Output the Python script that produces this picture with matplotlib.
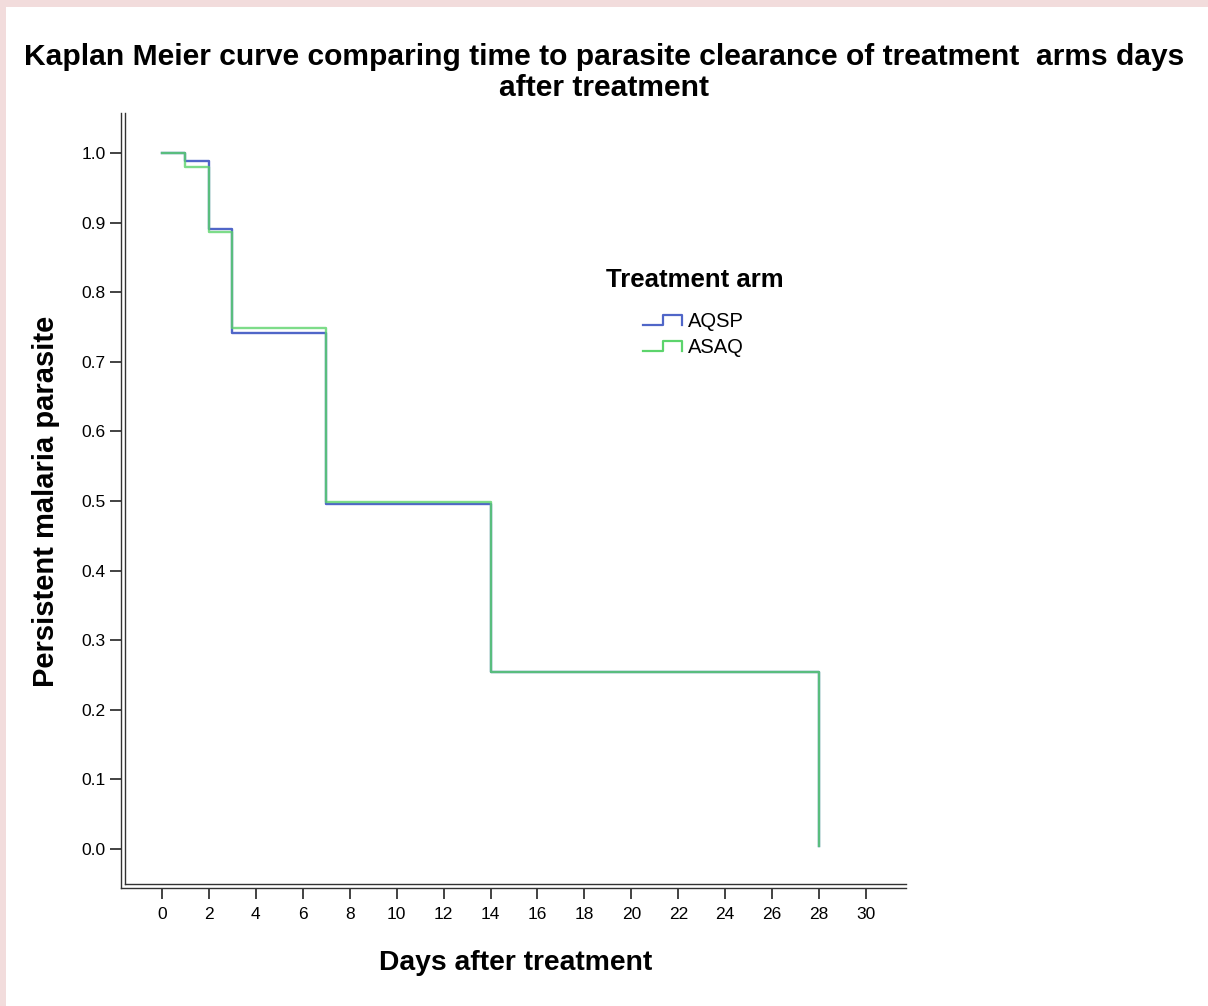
import numpy as np
import matplotlib
matplotlib.use("Agg")
import matplotlib.pyplot as plt
from matplotlib.lines import Line2D
from matplotlib.legend_handler import HandlerBase
from matplotlib.patches import Rectangle

plt.rcParams['font.family'] = ['Liberation Sans', 'DejaVu Sans']

# ---- data ----
days = [0, 1, 2, 3, 7, 14, 28]
aqsp = [1.0, 0.988, 0.891, 0.741, 0.496, 0.254, 0.004]
asaq = [1.0, 0.980, 0.886, 0.748, 0.498, 0.255, 0.004]
arm_names = ["AQSP", "ASAQ"]
arm_colors = ["#5066c8", "#5cd46c"]
x_ticks = list(range(0, 31, 2))
y_ticks = [round(0.1 * i, 1) for i in range(11)]

title = "Kaplan Meier curve comparing time to parasite clearance of treatment  arms days\nafter treatment"

W, H = 1208, 1006
fig = plt.figure(figsize=(W / 100, H / 100), dpi=100)
fig.patch.set_facecolor("white")

# pink frame strips
fig.add_artist(Rectangle((0, 1 - 7 / H), 1, 7 / H, transform=fig.transFigure,
                         facecolor="#f2dcdc", edgecolor="none"))
fig.add_artist(Rectangle((0, 0), 6 / W, 1, transform=fig.transFigure,
                         facecolor="#f2dcdc", edgecolor="none"))

L, R, T, B = 121, 906, 113, 888
ax = fig.add_axes([L / W, 1 - B / H, (R - L) / W, (B - T) / H])

# data limits from pixel calibration
x0px, xpx_per = 162, (866 - 162) / 30
y0px, ypx_per = 849, (849 - 153) / 1.0
ax.set_xlim((L - x0px) / xpx_per, (R - x0px) / xpx_per)
ax.set_ylim((y0px - B) / ypx_per, (y0px - T) / ypx_per)

lines = []
for vals, c, a in zip([aqsp, asaq], arm_colors, [1.0, 0.8]):
    ln, = ax.step(days, vals, where="post", color=c, lw=1.7, alpha=a)
    lines.append(ln)

for s in ["top", "right"]:
    ax.spines[s].set_visible(False)
for s in ["left", "bottom"]:
    ax.spines[s].set_color("#333333")
    ax.spines[s].set_linewidth(1.0)

# second lines of the double frame
fig.add_artist(Line2D([(L + 4) / W, (L + 4) / W], [1 - T / H, 1 - (B - 4) / H],
                      transform=fig.transFigure, color="#333333", lw=1.0))
fig.add_artist(Line2D([(L + 4) / W, R / W], [1 - (B - 4) / H, 1 - (B - 4) / H],
                      transform=fig.transFigure, color="#333333", lw=1.0))

ax.set_xticks(x_ticks)
ax.set_xticklabels([str(t) for t in x_ticks], fontsize=12.5)
ax.set_yticks(y_ticks)
ax.set_yticklabels([f"{t:.1f}" for t in y_ticks], fontsize=12.5)
ax.tick_params(axis="both", direction="out", length=8, width=1.2, color="#222222")
ax.tick_params(axis="y", pad=3)
ax.tick_params(axis="x", pad=6)

fig.text(516 / W, 1 - 963 / H, "Days after treatment", ha="center", va="center",
         fontsize=20.3, fontweight="bold")
fig.text(46 / W, 1 - 501 / H, "Persistent malaria parasite", ha="center", va="center",
         rotation=90, fontsize=21, fontweight="bold")

fig.text(0.5, 1 - 43 / H, title, ha="center", va="top", fontsize=21.6,
         fontweight="bold", linespacing=1.12)

fig.text(695 / W, 1 - 280 / H, "Treatment arm", ha="center", va="center",
         fontsize=18.5, fontweight="bold")


class StepHandler(HandlerBase):
    def create_artists(self, legend, orig_handle, xdescent, ydescent, width,
                       height, fontsize, trans):
        xs = np.array([0, 0.5, 0.5, 1, 1]) * width - xdescent
        ys = np.array([0.15, 0.15, 0.85, 0.85, 0.15]) * height - ydescent
        ln = Line2D(xs, ys, color=orig_handle.get_color(), lw=1.6)
        ln.set_transform(trans)
        return [ln]


leg = ax.legend(lines, arm_names, frameon=False,
                loc="upper left", bbox_to_anchor=(643 / W, 1 - 312 / H),
                bbox_transform=fig.transFigure, fontsize=14.5,
                handler_map={Line2D: StepHandler()}, handlelength=1.95,
                handletextpad=0.3, labelspacing=0.35, borderpad=0,
                borderaxespad=0)

fig.savefig("out.png", dpi=100, facecolor="white")
